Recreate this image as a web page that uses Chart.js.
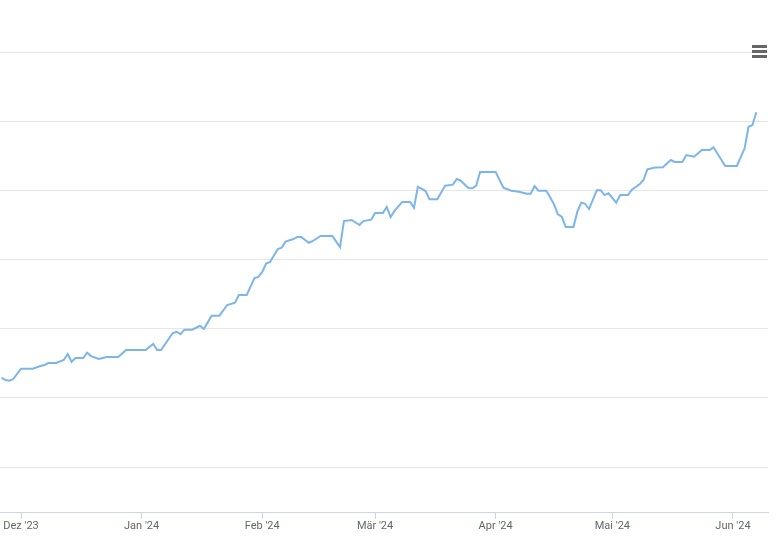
<!DOCTYPE html>
<html>
<head>
<meta charset="utf-8">
<script src="https://cdn.jsdelivr.net/npm/chart.js@4/dist/chart.umd.min.js"></script>
<style>
    body { margin: 0; background: #ffffff; }
    #wrap { position: relative; width: 776px; height: 538px; }
    #menu { position: absolute; left: 752px; top: 45px; width: 15px; }
    #menu div { height: 2.5px; background: #666666; margin-bottom: 2.5px; }
</style>
</head>
<body>
<div id="wrap">
    <canvas id="graph" width="776" height="538"></canvas>
    <div id="menu"><div></div><div></div><div></div></div>
</div>
<script>
const dates = [
    '2023-11-26', '2023-11-27', '2023-11-28', '2023-11-29',
    '2023-12-01', '2023-12-04', '2023-12-06', '2023-12-07', '2023-12-08', '2023-12-10', '2023-12-12', '2023-12-13', '2023-12-14',
    '2023-12-15', '2023-12-17', '2023-12-18', '2023-12-19', '2023-12-21', '2023-12-23', '2023-12-26', '2023-12-28', '2023-12-30',
    '2024-01-02', '2024-01-04', '2024-01-05', '2024-01-06', '2024-01-09', '2024-01-10', '2024-01-11', '2024-01-12', '2024-01-14',
    '2024-01-16', '2024-01-17', '2024-01-19', '2024-01-21', '2024-01-23', '2024-01-25', '2024-01-26', '2024-01-28', '2024-01-30', '2024-01-31',
    '2024-02-01', '2024-02-02', '2024-02-03', '2024-02-05', '2024-02-06', '2024-02-07', '2024-02-09', '2024-02-10', '2024-02-11', '2024-02-13',
    '2024-02-14', '2024-02-16', '2024-02-19', '2024-02-21', '2024-02-22', '2024-02-24', '2024-02-26', '2024-02-27', '2024-02-29',
    '2024-03-01', '2024-03-03', '2024-03-04', '2024-03-05', '2024-03-06', '2024-03-08', '2024-03-10', '2024-03-11', '2024-03-12', '2024-03-14',
    '2024-03-15', '2024-03-17', '2024-03-19', '2024-03-21', '2024-03-22', '2024-03-23', '2024-03-25', '2024-03-26', '2024-03-27', '2024-03-28',
    '2024-04-01', '2024-04-03', '2024-04-05', '2024-04-07', '2024-04-09', '2024-04-10', '2024-04-11', '2024-04-12', '2024-04-14', '2024-04-15',
    '2024-04-16', '2024-04-17', '2024-04-18', '2024-04-19', '2024-04-21', '2024-04-22', '2024-04-23', '2024-04-24', '2024-04-25', '2024-04-27',
    '2024-04-28', '2024-04-29', '2024-04-30',
    '2024-05-02', '2024-05-03', '2024-05-05', '2024-05-06', '2024-05-08', '2024-05-09', '2024-05-10', '2024-05-12', '2024-05-14', '2024-05-16',
    '2024-05-17', '2024-05-19', '2024-05-20', '2024-05-22', '2024-05-24', '2024-05-26', '2024-05-27', '2024-05-30',
    '2024-06-02', '2024-06-04', '2024-06-05', '2024-06-06', '2024-06-07'
];

const values = [
    164.6, 162.9, 162.4, 163.6,
    171.1, 171.1, 173.0, 173.7, 175.2, 175.2, 177.4, 181.7, 176.1,
    178.8, 178.8, 182.6, 180.2, 178.1, 179.5, 179.5, 184.6, 184.6,
    184.6, 188.9, 184.6, 184.6, 196.9, 197.8, 196.1, 199.3, 199.3,
    202.1, 199.8, 209.4, 209.4, 217.1, 218.8, 224.3, 224.3, 236.6, 237.4,
    241.0, 247.1, 248.2, 257.6, 258.5, 262.9, 264.8, 266.3, 266.3, 262.1,
    263.4, 267.0, 267.0, 259.0, 277.8, 278.6, 274.9, 277.8, 278.8,
    283.6, 283.6, 288.0, 280.7, 285.1, 291.6, 291.6, 287.4, 302.6, 299.5,
    293.5, 293.5, 303.4, 304.1, 308.2, 307.0, 301.7, 301.5, 303.4, 313.3,
    313.3, 301.9, 299.7, 299.0, 297.6, 297.6, 303.1, 299.7, 299.7, 295.0,
    289.9, 282.7, 280.9, 273.5, 273.5, 284.6, 291.1, 290.3, 286.5, 300.0,
    300.0, 296.6, 297.9,
    291.1, 296.6, 296.6, 300.5, 304.4, 307.5, 315.2, 316.5, 316.7, 321.9,
    320.5, 320.5, 325.5, 324.3, 329.2, 329.2, 331.1, 317.6,
    317.6, 330.4, 346.0, 347.2, 356.4
];

const tickDates = ['2023-12-01', '2024-01-01', '2024-02-01', '2024-03-01', '2024-04-01', '2024-05-01', '2024-06-01'];
const tickLabels = ['Dez \'23', 'Jan \'24', 'Feb \'24', 'Mär \'24', 'Apr \'24', 'Mai \'24', 'Jun \'24'];
const gridValues = [100, 150, 200, 250, 300, 350, 400];

const canvas = document.getElementById('graph');

// days since 1 Dec 2023
function dayOf(str) {
    const p = str.split('-').map(Number);
    return (Date.UTC(p[0], p[1] - 1, p[2]) - Date.UTC(2023, 11, 1)) / 86400000;
}

const points = dates.map((d, i) => ({x: dayOf(d), y: values[i]}));
const tickDays = tickDates.map(dayOf);

const chart = new Chart(canvas, {
    type: 'line',
    data: {
        datasets: [{
            data: points,
            borderColor: '#7cb5ec',
            borderWidth: 2,
            pointRadius: 0,
            tension: 0,
            fill: false
        }]
    },
    options: {
        responsive: false,
        animation: false,
        layout: {padding: {left: 0, right: 8, top: 52, bottom: 0}},
        plugins: {legend: {display: false}, tooltip: {enabled: false}},
        scales: {
            x: {
                type: 'linear',
                min: -5.4,
                max: 192,
                afterBuildTicks: axis => {
                    axis.ticks = tickDays.map(v => ({value: v}));
                },
                afterFit: axis => { axis.height = 26; },
                grid: {
                    drawOnChartArea: false,
                    drawTicks: true,
                    tickLength: 7,
                    color: '#ccd6eb'
                },
                border: {color: '#ccd6eb', width: 1},
                ticks: {
                    autoSkip: false,
                    maxRotation: 0,
                    padding: 1,
                    color: '#666666',
                    font: {family: 'Roboto', size: 11},
                    callback: function (value) {
                        const i = tickDays.indexOf(value);
                        return i >= 0 ? tickLabels[i] : '';
                    }
                }
            },
            y: {
                type: 'linear',
                min: 67.5,
                max: 400,
                afterBuildTicks: axis => {
                    axis.ticks = gridValues.map(v => ({value: v}));
                },
                afterFit: axis => { axis.width = 0; },
                grid: {color: '#e6e6e6', drawTicks: false},
                border: {display: false},
                ticks: {display: false}
            }
        }
    }
});
</script>
</body>
</html>
